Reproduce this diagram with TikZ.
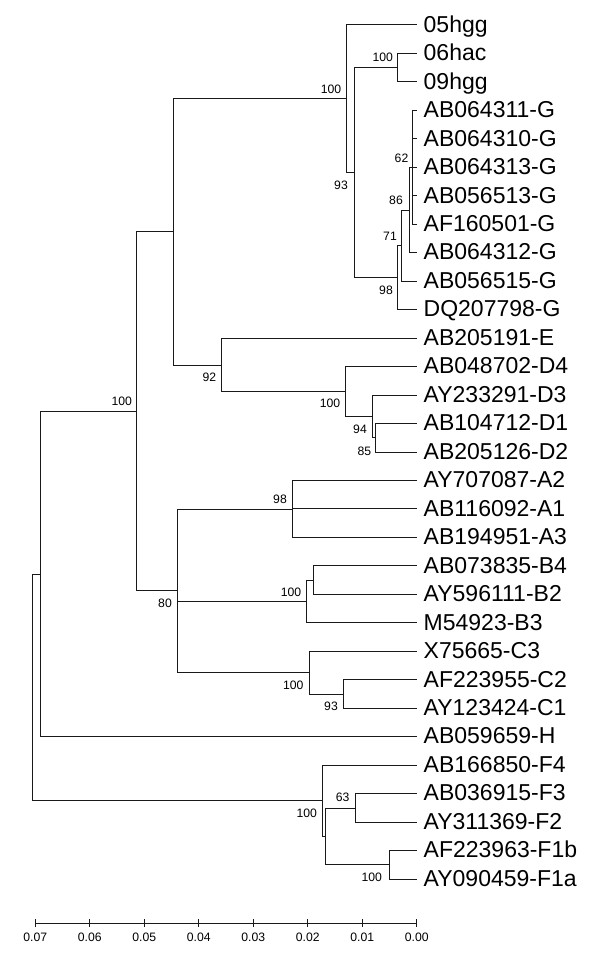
\documentclass[tikz,border=0pt]{standalone}
\usepackage{fontspec}
\setmainfont{Liberation Sans}
\begin{document}
\begin{tikzpicture}[x=1pt,y=-1pt,
  br/.style={line width=1pt,draw=black!90},
  leaflab/.style={anchor=base west,inner sep=0pt,font=\fontsize{23}{27}\selectfont},
  bs/.style={inner sep=0pt,font=\fontsize{12.2}{14}\selectfont},
  axlab/.style={inner sep=0pt,font=\fontsize{12.2}{14}\selectfont}]
\useasboundingbox[fill=white] (0,0) rectangle (600,968);
% leaves
\foreach \n/\t in {0/05hgg,1/06hac,2/09hgg,3/AB064311-G,4/AB064310-G,5/AB064313-G,6/AB056513-G,7/AF160501-G,8/AB064312-G,9/AB056515-G,10/DQ207798-G,11/AB205191-E,12/AB048702-D4,13/AY233291-D3,14/AB104712-D1,15/AB205126-D2,16/AY707087-A2,17/AB116092-A1,18/AB194951-A3,19/AB073835-B4,20/AY596111-B2,21/M54923-B3,22/X75665-C3,23/AF223955-C2,24/AY123424-C1,25/AB059659-H,26/AB166850-F4,27/AB036915-F3,28/AY311369-F2,29/AF223963-F1b,30/AY090459-F1a}{
  \coordinate (t\n) at (416.7,{25+28.47*\n});
  \node[leaflab] (lab\n) at (423.5,{25+28.47*\n+7.2}) {\t};
}
% internal nodes
\coordinate (nF) at (346,98.9);
\coordinate (nE) at (354.3,172.7);
\coordinate (n0609) at (397.7,67.7);
\coordinate (nA) at (412,167.4);
\coordinate (nB) at (409.5,210.1);
\coordinate (nC) at (401.7,245.7);
\coordinate (nD) at (397.7,277.7);
\coordinate (nG) at (173.3,232);
\coordinate (nH) at (221.7,365);
\coordinate (nI) at (345.7,391.6);
\coordinate (nJ) at (372.3,416.4);
\coordinate (nK) at (375,437.8);
\coordinate (nL) at (136.7,411.5);
\coordinate (nM) at (177.7,590.8);
\coordinate (nN) at (292.3,509);
\coordinate (nP) at (306.3,601.5);
\coordinate (nR) at (313.3,580.2);
\coordinate (nQ) at (309,672.7);
\coordinate (nS) at (343.3,694);
\coordinate (nT) at (40.7,574.1);
\coordinate (nU) at (32.3,687.5);
\coordinate (nV) at (322.3,800.9);
\coordinate (nW) at (325.7,836.7);
\coordinate (nX) at (355.7,808);
\coordinate (nY) at (389.3,864.9);
% branches
\foreach \p/\c in {nF/t0,nF/nE,nE/n0609,nE/nD,n0609/t1,n0609/t2,nD/nC,nD/t10,nC/nB,nC/t9,nB/nA,nB/t8,nA/t3,nA/t4,nA/t5,nA/t6,nA/t7,
  nG/nF,nG/nH,nH/t11,nH/nI,nI/t12,nI/nJ,nJ/t13,nJ/nK,nK/t14,nK/t15,
  nL/nG,nL/nM,nM/nN,nM/nP,nM/nQ,nN/t16,nN/t17,nN/t18,nP/nR,nP/t21,nR/t19,nR/t20,nQ/t22,nQ/nS,nS/t23,nS/t24,
  nT/nL,nT/t25,nU/nT,nU/nV,nV/t26,nV/nW,nW/nX,nW/nY,nX/t27,nX/t28,nY/t29,nY/t30}{
  \draw[br] (\p) |- (\c);
}
% bootstrap values
\node[bs] (b1) at (331,89) {100};
\node[bs] (b2) at (341,185) {93};
\node[bs] (b3) at (382.7,57.7) {100};
\node[bs] (b4) at (401.5,158) {62};
\node[bs] (b5) at (396,200) {86};
\node[bs] (b6) at (390,236) {71};
\node[bs] (b7) at (386,290) {98};
\node[bs] (b8) at (209.3,377.3) {92};
\node[bs] (b9) at (330,403) {100};
\node[bs] (b10) at (360,429) {94};
\node[bs] (b11) at (364.3,451) {85};
\node[bs] (b12) at (121.7,401) {100};
\node[bs] (b13) at (165,603.3) {80};
\node[bs] (b14) at (280,499.3) {98};
\node[bs] (b15) at (291,592) {100};
\node[bs] (b16) at (293.3,685) {100};
\node[bs] (b17) at (331,706) {93};
\node[bs] (b18) at (306.7,813.3) {100};
\node[bs] (b19) at (342.7,797.7) {63};
\node[bs] (b20) at (371.7,877.3) {100};
% scale axis
\foreach \k/\v in {0/0.00,1/0.01,2/0.02,3/0.03,4/0.04,5/0.05,6/0.06,7/0.07}{
  \coordinate (ax\k) at ({416.7-54.5*\k},923.3);
  \coordinate (axt\k) at ({416.7-54.5*\k},919.3);
  \coordinate (axb\k) at ({416.7-54.5*\k},927.3);
  \draw[br] (axt\k) -- (axb\k);
  \node[axlab] (axl\k) at ({416.7-54.5*\k},937.5) {\v};
}
\draw[br] (ax7) -- (ax0);
\end{tikzpicture}
\end{document}
